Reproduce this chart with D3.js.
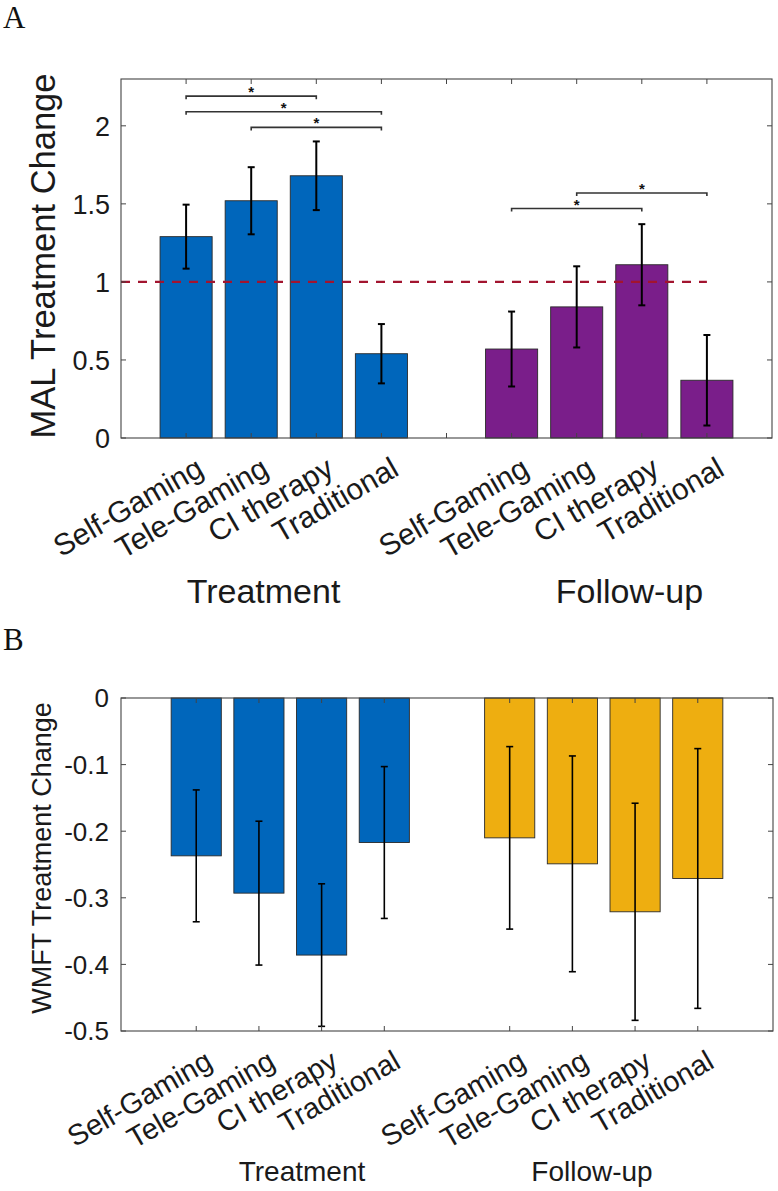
<!DOCTYPE html>
<html><head><meta charset="utf-8">
<script src="https://cdn.jsdelivr.net/npm/d3@7/dist/d3.min.js"></script>
<style>body{margin:0;background:#fff}svg{display:block}</style>
</head><body>
<script>
// ---------- data ----------
const categories = ["Self-Gaming", "Tele-Gaming", "CI therapy", "Traditional"];
const phases = ["Treatment", "Follow-up"];

const malTreatMean = [1.29, 1.52, 1.68, 0.54];
const malTreatErr = [0.205, 0.215, 0.22, 0.19];
const malFollowMean = [0.57, 0.84, 1.11, 0.37];
const malFollowErr = [0.24, 0.26, 0.26, 0.29];
const malYTicks = [0, 0.5, 1, 1.5, 2];
const malReference = 1;
// [from slot, to slot, height]
const malSignificance = [[1, 3, 2.19], [1, 4, 2.09], [2, 4, 1.99], [6, 8, 1.47], [7, 9, 1.57]];

const wmftTreatMean = [-0.237, -0.293, -0.386, -0.217];
const wmftTreatErr = [0.099, 0.108, 0.107, 0.114];
const wmftFollowMean = [-0.210, -0.249, -0.321, -0.271];
const wmftFollowErr = [0.137, 0.162, 0.163, 0.195];
const wmftYTicks = [0, -0.1, -0.2, -0.3, -0.4, -0.5];

// ---------- drawing ----------
const W = 778, H = 1191;
const svg = d3.select("body").append("svg").attr("width", W).attr("height", H);
const SANS = "'Liberation Sans', Arial, Helvetica, sans-serif";
const AX = "#444";

function slotData(tMean, tErr, fMean, fErr) {
  const rows = [];
  categories.forEach((c, i) => rows.push({cat: c, slot: i + 1, mean: tMean[i], err: tErr[i], phase: 0}));
  categories.forEach((c, i) => rows.push({cat: c, slot: i + 6, mean: fMean[i], err: fErr[i], phase: 1}));
  return rows;
}

function panel(o) {
  const g = svg.append("g");
  const x = d3.scaleLinear().domain(o.xDomain).range([o.left, o.right]);
  const y = d3.scaleLinear().domain(o.yDomain).range([o.bottom, o.top]);
  const rows = slotData(o.tMean, o.tErr, o.fMean, o.fErr);
  const bw = (x(1) - x(0)) * 0.8;
  const base = y(0);

  // bars
  g.selectAll("rect.bar").data(rows).join("rect")
    .attr("x", d => x(d.slot) - bw / 2)
    .attr("y", d => Math.min(y(d.mean), base))
    .attr("width", bw)
    .attr("height", d => Math.abs(y(d.mean) - base))
    .attr("fill", d => o.colors[d.phase])
    .attr("stroke", "#2a2a2a").attr("stroke-width", 0.9);

  // reference line
  if (o.reference !== undefined) {
    g.append("line")
      .attr("x1", x(0)).attr("x2", x(9))
      .attr("y1", y(o.reference)).attr("y2", y(o.reference))
      .attr("stroke", "#a2142f").attr("stroke-width", 2.4)
      .attr("stroke-dasharray", "9,8");
  }

  // error bars
  const eb = g.selectAll("g.eb").data(rows).join("g");
  const cap = 3.5;
  eb.append("line")
    .attr("x1", d => x(d.slot)).attr("x2", d => x(d.slot))
    .attr("y1", d => y(d.mean + d.err)).attr("y2", d => y(d.mean - d.err))
    .attr("stroke", "#000").attr("stroke-width", o.ebWidth);
  [1, -1].forEach(s => {
    eb.append("line")
      .attr("x1", d => x(d.slot) - cap).attr("x2", d => x(d.slot) + cap)
      .attr("y1", d => y(d.mean + s * d.err)).attr("y2", d => y(d.mean + s * d.err))
      .attr("stroke", "#000").attr("stroke-width", o.ebWidth);
  });

  // axes box
  g.append("rect").attr("x", o.left).attr("y", o.top)
    .attr("width", o.right - o.left).attr("height", o.bottom - o.top)
    .attr("fill", "none").attr("stroke", AX).attr("stroke-width", 1.1);

  const tl = 5;
  // x ticks (bottom & top, inward)
  g.selectAll("line.xtb").data(o.xTickSlots).join("line")
    .attr("x1", d => x(d)).attr("x2", d => x(d))
    .attr("y1", o.bottom).attr("y2", o.bottom - tl).attr("stroke", AX);
  g.selectAll("line.xtt").data(o.xTickSlots).join("line")
    .attr("x1", d => x(d)).attr("x2", d => x(d))
    .attr("y1", o.top).attr("y2", o.top + tl).attr("stroke", AX);
  // y ticks left & right
  g.selectAll("line.ytl").data(o.yTicks).join("line")
    .attr("x1", o.left).attr("x2", o.left + tl)
    .attr("y1", d => y(d)).attr("y2", d => y(d)).attr("stroke", AX);
  g.selectAll("line.ytr").data(o.yTicks).join("line")
    .attr("x1", o.right).attr("x2", o.right - tl)
    .attr("y1", d => y(d)).attr("y2", d => y(d)).attr("stroke", AX);

  // y tick labels
  g.selectAll("text.yl").data(o.yTicks).join("text")
    .attr("x", o.left - o.yLabelGap).attr("y", d => y(d)).attr("dy", "0.36em")
    .attr("text-anchor", "end").attr("font-family", SANS)
    .attr("font-size", o.yTickFont).attr("fill", "#1a1a1a")
    .text(d => String(d));

  // x tick labels (rotated)
  g.selectAll("text.xl").data(rows).join("text")
    .attr("transform", d => `translate(${x(d.slot) + o.xlDx},${o.bottom + o.xlDy}) rotate(-30)`)
    .attr("dy", "0.35em")
    .attr("text-anchor", "end").attr("font-family", SANS)
    .attr("font-size", o.xTickFont).attr("fill", "#1a1a1a")
    .text(d => d.cat);

  // phase labels
  g.selectAll("text.ph").data(phases).join("text")
    .attr("x", (d, i) => x(5) + (i === 0 ? -o.phaseOffset : o.phaseOffset))
    .attr("y", o.phaseY)
    .attr("text-anchor", "middle").attr("font-family", SANS)
    .attr("font-size", o.phaseFont).attr("fill", "#1a1a1a")
    .text(d => d);

  // y axis label
  g.append("text")
    .attr("transform", `translate(${o.yTitleX},${o.yTitleY}) rotate(-90)`)
    .attr("text-anchor", "middle").attr("dy", "0.35em")
    .attr("font-family", SANS).attr("font-size", o.yTitleFont).attr("fill", "#1a1a1a")
    .text(o.yTitle);

  // panel letter
  svg.append("text").attr("x", 3).attr("y", o.letterY)
    .attr("font-family", "'Liberation Serif', 'Times New Roman', serif")
    .attr("font-size", 31).attr("fill", "#111").text(o.letter);

  // significance brackets
  if (o.sig) {
    const sg = g.selectAll("g.sig").data(o.sig).join("g");
    sg.append("path")
      .attr("d", d => `M${x(d[0])},${y(d[2]) + 3}V${y(d[2])}H${x(d[1])}V${y(d[2]) + 3}`)
      .attr("fill", "none").attr("stroke", "#333").attr("stroke-width", 1.6);
    sg.append("text")
      .attr("x", d => x((d[0] + d[1]) / 2)).attr("y", d => y(d[2]) + 1)
      .attr("text-anchor", "middle").attr("font-family", SANS)
      .attr("font-size", 15).attr("font-weight", "bold").attr("fill", "#111")
      .text("*");
  }
}

panel({
  letter: "A", letterY: 28,
  left: 121, right: 772, top: 79, bottom: 438,
  xDomain: [0, 10], yDomain: [0, 2.3],
  xTickSlots: [1, 2, 3, 4, 5, 6, 7, 8, 9],
  yTicks: malYTicks,
  tMean: malTreatMean, tErr: malTreatErr, fMean: malFollowMean, fErr: malFollowErr,
  colors: ["#0066bb", "#7a1e8a"],
  reference: malReference,
  sig: malSignificance,
  ebWidth: 2,
  yLabelGap: 11, yTickFont: 27, xTickFont: 30, xlDx: 14, xlDy: 27,
  phaseY: 603, phaseOffset: 183, phaseFont: 34,
  yTitle: "MAL Treatment Change", yTitleX: 43, yTitleY: 256, yTitleFont: 34.5
});

panel({
  letter: "B", letterY: 650,
  left: 121, right: 773, top: 698, bottom: 1031,
  xDomain: [-0.2, 10.2], yDomain: [-0.5, 0],
  xTickSlots: [1, 2, 3, 4, 6, 7, 8, 9],
  yTicks: wmftYTicks,
  tMean: wmftTreatMean, tErr: wmftTreatErr, fMean: wmftFollowMean, fErr: wmftFollowErr,
  colors: ["#0066bb", "#eeae10"],
  ebWidth: 1.6,
  yLabelGap: 12, yTickFont: 26, xTickFont: 29, xlDx: 13, xlDy: 27,
  phaseY: 1181, phaseOffset: 145, phaseFont: 28,
  yTitle: "WMFT Treatment Change", yTitleX: 42, yTitleY: 858, yTitleFont: 27
});
</script>
</body></html>
